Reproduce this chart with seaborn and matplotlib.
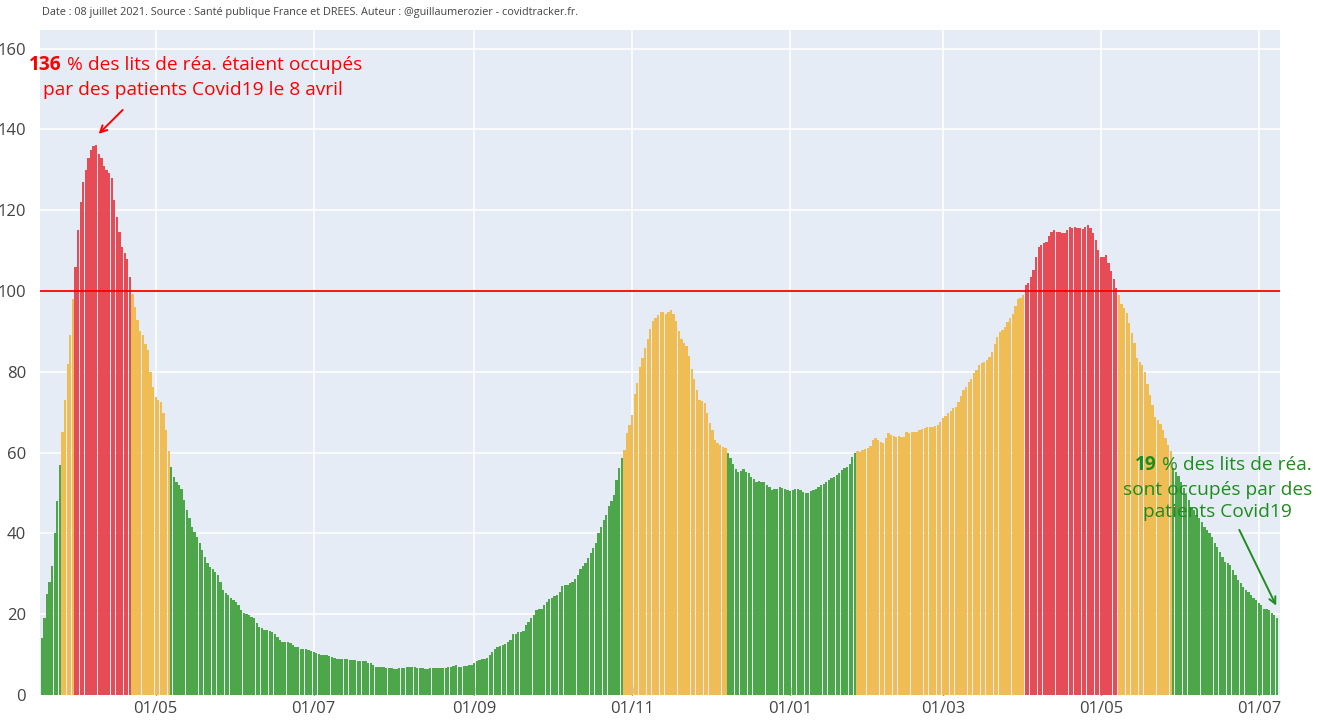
import numpy as np
import pandas as pd
import matplotlib
matplotlib.use("Agg")
import matplotlib.pyplot as plt
import seaborn as sns

# Taux d'occupation des lits de réanimation par des patients Covid19 (%)
# un point par jour, du 18 mars 2020 au 8 juillet 2021
debut = "2020-03-18"

vague1_montee = [14, 19, 25, 28, 32, 40, 48, 57, 65, 73, 82, 89, 98]
vague1_pic = [106, 115, 122, 127, 130, 133, 135, 135.9, 136.1, 134, 132.8, 131,
              130, 129.3, 128, 122.5, 118.4, 114.7, 111, 109.3, 108, 103.5]
vague1_descente = [99.3, 96, 92.8, 90, 89, 87, 85.5, 80, 76.3, 73.8, 73, 72.6,
                   69.7, 65.6, 60.5]
printemps_2020 = [56.5, 54, 52.8, 52, 51, 48.3, 45.8, 43.7, 41.6, 40.4, 39.2, 37.5,
                  35.9, 34.2, 32.6, 31.7, 31.3, 30.5, 29.7, 28, 26, 25.2, 24.7, 23.9,
                  23.4, 23, 22.2, 21, 20.3, 20]
ete_2020 = [19.8, 19.4, 19, 17.7, 16.9, 16.5, 16.1, 16.1, 15.9, 15.7,
            15.1, 14.3, 13.6, 13.2, 13.0, 13.0, 12.8, 12.4, 12.0, 11.8,
            11.5, 11.3, 11.3, 11.1, 11.0, 10.7, 10.3, 10.1, 9.9, 9.9,
            9.8, 9.6, 9.5, 9.2, 9.0, 9.0, 8.9, 8.8, 8.8, 8.7,
            8.7, 8.6, 8.5, 8.5, 8.4, 8.3, 8.0, 7.8, 7.4, 7.0,
            7.0, 7.0, 7.0, 6.8, 6.6, 6.6, 6.5, 6.5, 6.6, 6.8,
            6.8, 6.9, 6.9, 6.9, 6.9, 6.8, 6.7, 6.6, 6.5, 6.5,
            6.6, 6.7, 6.8, 6.8, 6.8, 6.8, 6.8, 6.9, 7.0, 7.1, 7.4,
            7.0, 7.0, 7.1, 7.3, 7.4, 7.4, 7.8, 8.3, 8.7, 8.9,
            9.0, 9.2, 9.9, 10.7, 11.3, 11.8, 12.1, 12.4, 12.6, 13.2,
            13.6]
automne_2020 = [15.2, 15.2, 15.7, 15.7, 15.9, 17.3, 18.1, 19, 19.8, 21,
                21.2, 21.2, 22.3, 23.1, 23.7, 24.1, 24.5, 24.7, 25.6, 27,
                27.2, 27.2, 27.6, 28, 28.6, 29.7, 31.3, 31.9, 32.6,
                33.8, 35.1, 36.3, 37.6, 40.1, 41.7, 43.4, 44.6, 46.7, 47.9,
                49.6, 53.2, 56.1, 58.6]
vague2 = [60.7, 64.8, 66.9, 69.4, 74.4, 77.3, 81.3, 83.5, 86, 88,
          90.7, 92.6, 93.4, 94, 94.9, 94.9, 94.2, 94.9, 95.2, 94.2,
          92.6, 90.1, 88, 87.2, 86.4, 83.9, 80.6, 78.1, 75.6, 73.1,
          72.7, 72.3, 69.8, 67.3, 65.6, 63.2, 62.3, 61.9, 61.5, 61.2]
plateau_hiver = [59.8, 58.6, 57.3, 55.9, 55.3, 55.5, 55.9, 55.3, 54.9, 54.0,
                 53.4, 52.8, 53.0, 52.8, 52.6, 52.0, 51.6, 50.7, 50.9, 51.1,
                 51.6, 51.3, 50.9, 50.7, 50.6, 50.7, 51.1, 51.1, 50.7, 50.3,
                 49.9, 50.1, 50.6, 50.7, 51.1, 51.6, 52.0, 52.2, 52.6,
                 53.2, 53.6, 54.0, 54.4, 54.9, 55.7, 56.1, 56.5, 57.3, 59.0,
                 59.8]
vague3_montee = [60.3, 60.2, 60.6, 60.8, 61.1, 61.6, 63.1, 63.5, 63.1, 62.7,
                 62.3, 63.5, 64.8, 64.4, 64.1, 63.9,
                 64.0, 63.8, 63.8, 65.2, 64.8, 65.0, 65.2, 65.2, 65.6, 65.8,
                 66.0, 66.4, 66.3, 66.4, 66.6, 66.8, 67.6, 68.5, 69.1, 69.7,
                 70.4, 71.0, 71.4, 72.6, 73.9, 75.6, 76.3, 77.5, 78.3, 79.6,
                 80.4, 81.6, 82.2, 82.5, 82.9, 83.7, 84.9, 87.0, 88.7, 89.9,
                 90.3, 91.1, 92.4, 93.2, 94.4, 96.3, 97.9, 98.2, 99.0]
vague3_pic = [101.5, 102.1, 103.4, 105.2, 108.5, 111, 111.4, 111.8, 112.2, 113.5,
              114.5, 115.1, 114.7, 114.7, 114.3, 114.3, 115.1, 115.8, 115.5, 115.8,
              115.5, 115.5, 115.3, 115.9, 116.3, 115.5, 114.3, 112.6, 110.2, 108.5,
              108.4, 109, 106.9, 104.9, 102.9, 100.8]
vague3_descente = [99, 96.9, 95.7, 94.5, 92, 89.5, 87.1, 83.3, 82.5, 81.7,
                   80, 77.1, 74.2, 71.8, 68.9, 68.1, 67.2, 65.6, 63.6, 61.9,
                   60.3]
ete_2021 = [56.1, 55.3, 54.1, 52.8, 51.2, 49.5, 48.3, 46.6, 45.8, 44.6,
            43.7, 42.9, 41.7, 40.8, 40.0, 39.2, 37.5, 36.7, 35.5, 34.2,
            33.0, 32.7, 32.2, 30.9, 29.7, 28.5, 27.6, 26.8, 26.0, 25.6,
            24.7, 23.9, 23.5, 22.8, 22.3, 21.4, 21.2, 21.0, 20.4, 19.8,
            19.0]

dates_ticks = ["2020-05-01", "2020-07-01", "2020-09-01", "2020-11-01",
               "2021-01-01", "2021-03-01", "2021-05-01", "2021-07-01"]
couleurs = {"vert": "#4ea64a", "orange": "#f0bd55", "rouge": "#e74b55"}

occupation = (vague1_montee + vague1_pic + vague1_descente + printemps_2020 + ete_2020
              + automne_2020 + vague2 + plateau_hiver + vague3_montee + vague3_pic
              + vague3_descente + ete_2021)

df = pd.DataFrame({"taux": occupation})
df["jour"] = np.arange(len(df))
df["date"] = pd.date_range(debut, periods=len(df), freq="D")
df["niveau"] = np.where(df["taux"] < 60, "vert",
                        np.where(df["taux"] <= 100, "orange", "rouge"))

sns.set_theme(style="darkgrid", rc={"axes.facecolor": "#E5ECF6", "grid.color": "white",
                                    "grid.linewidth": 1.1})
plt.rcParams["font.family"] = ["Open Sans", "DejaVu Sans"]

fig = plt.figure(figsize=(13.22, 7.21), dpi=100)
ax = fig.add_axes([40 / 1322, 26 / 721, 1240 / 1322, 665 / 721])

sns.barplot(data=df, x="jour", y="taux", hue="niveau", palette=couleurs,
            dodge=False, native_scale=True, width=0.88, linewidth=0,
            saturation=1, errorbar=None, legend=False, ax=ax)

ax.axhline(100, color="red", lw=1.3, zorder=3)

pos_ticks = [(pd.Timestamp(d) - pd.Timestamp(debut)).days for d in dates_ticks]
ax.set_xticks(pos_ticks)
ax.set_xticklabels([pd.Timestamp(d).strftime("%d/%m") for d in dates_ticks])
ax.set_yticks(range(0, 161, 20))
ax.set_xlim(-0.7, len(df) + 0.2)
ax.set_ylim(0, 164.6)
ax.set_xlabel("")
ax.set_ylabel("")
ax.tick_params(axis="both", labelsize=12, labelcolor="#444444", pad=4)
ax.tick_params(axis="x", direction="in", length=6, width=1, color="#444444", bottom=True)
for s in ax.spines.values():
    s.set_visible(False)

fig.text(42 / 1322, 1 - 12 / 721,
         "Date : 08 juillet 2021. Source : Santé publique France et DREES. "
         "Auteur : @guillaumerozier - covidtracker.fr.",
         fontsize=7.8, color="#444444", va="center")

# annotation pic du 8 avril
taille = 13.8
i_pic = int(np.argmax(occupation))
ax.text(7.7, 155.9, f"{occupation[i_pic]:.0f}", color="red", fontsize=taille,
        fontweight="bold", ha="right", va="center")
ax.text(7.7, 155.9, " % des lits de réa. étaient occupés", color="red",
        fontsize=taille, ha="left", va="center")
ax.text(58.5, 149.8, "par des patients Covid19 le 8 avril", color="red",
        fontsize=taille, ha="center", va="center")
ax.annotate("", xy=(i_pic + 0.2, 138.4), xytext=(32, 145.3),
            arrowprops=dict(arrowstyle="->", color="red", lw=1.4))

# annotation dernier jour
vert_txt = "#1e8c1e"
dernier = len(occupation) - 1
ax.text(430.7, 56.9, f"{occupation[dernier]:.0f}", color=vert_txt, fontsize=taille,
        fontweight="bold", ha="right", va="center")
ax.text(430.7, 56.9, " % des lits de réa.", color=vert_txt, fontsize=taille,
        ha="left", va="center")
ax.text(454.2, 50.7, "sont occupés par des", color=vert_txt, fontsize=taille,
        ha="center", va="center")
ax.text(454.0, 45.3, "patients Covid19", color=vert_txt, fontsize=taille,
        ha="center", va="center")
ax.annotate("", xy=(dernier + 0.2, 21.5), xytext=(462, 41.5),
            arrowprops=dict(arrowstyle="->", color=vert_txt, lw=1.4))

fig.savefig("out.png", dpi=100)
